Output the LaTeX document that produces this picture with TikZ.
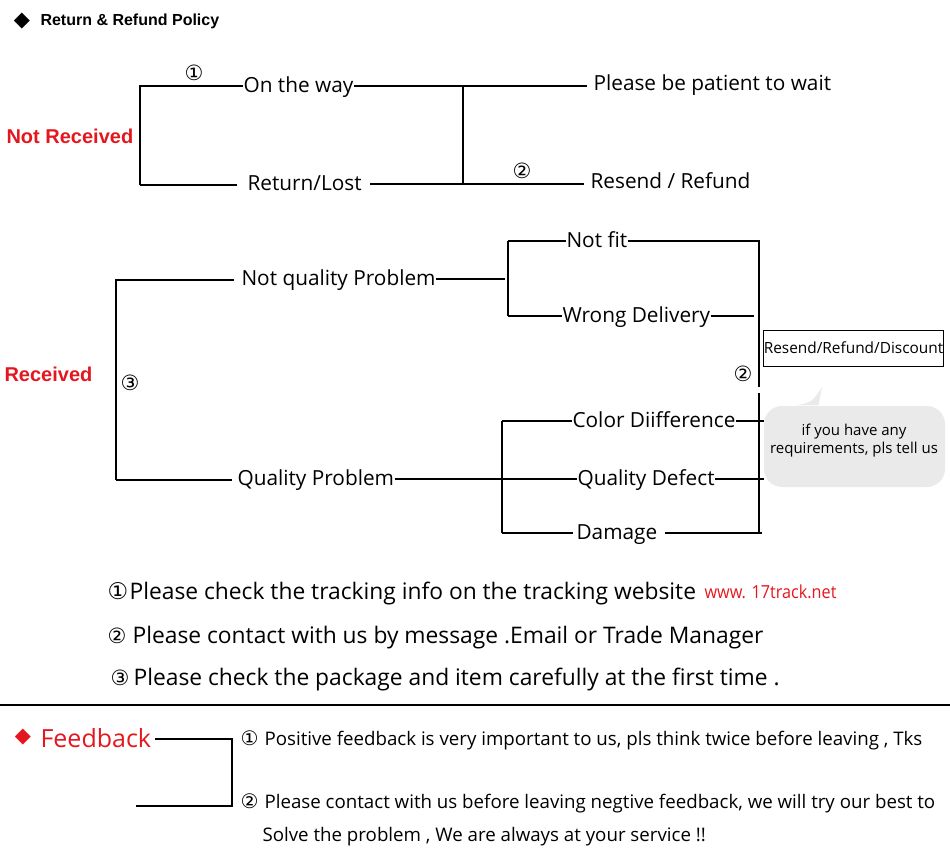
\documentclass[tikz,border=0pt]{standalone}
\usepackage{fontspec}
\setmainfont{Open Sans}
\newfontfamily\symf{DejaVu Sans}
\newfontfamily\arialf{Liberation Sans}
\newfontfamily\midf{Open Sans}[FakeStretch=0.9]
\newcommand\mycirc[3]{\makebox[#1pt][l]{\symf\fontsize{#2}{20}\selectfont #3}}
\definecolor{tred}{RGB}{228,22,30}
\definecolor{bubg}{RGB}{234,234,234}
\begin{document}
\begin{tikzpicture}[x=1pt,y=-1pt,line width=1.1pt,
  lbl/.style={font=\fontsize{20.8}{25}\selectfont, inner sep=0pt, anchor=west, text height=15pt, text depth=3pt},
  circ/.style={font=\symf\fontsize{21}{22}\selectfont, inner sep=0pt},
  bullet/.style={font=\symf\fontsize{21}{22}\selectfont, inner sep=0pt},
  redb/.style={font=\arialf\bfseries\fontsize{20}{23}\selectfont, text=tred, inner sep=0pt, anchor=west},
  ttl/.style={font=\arialf\bfseries\fontsize{16}{18}\selectfont, inner sep=0pt, anchor=west},
  btxt/.style={font=\fontsize{22.8}{27}\selectfont, inner sep=0pt, anchor=west, text height=16pt, text depth=5pt},
  urlt/.style={font=\midf\fontsize{18}{20}\selectfont, text=tred, inner sep=0pt, anchor=west},
  fbt/.style={font=\fontsize{18.7}{22}\selectfont, inner sep=0pt, anchor=west, text height=13pt, text depth=4pt},
  boxn/.style={draw, line width=1pt, minimum width=179pt, minimum height=36pt, inner sep=0pt, font=\fontsize{15.4}{18}\selectfont},
  bubble/.style={fill=bubg, rounded corners=18pt, minimum width=181pt, minimum height=81pt, inner sep=0pt},
  bubtxt/.style={font=\fontsize{15}{18}\selectfont, align=center, inner sep=0pt}]
\useasboundingbox (0,0) rectangle (950,852);

% ---- title
\node[bullet] (tb) at (22,21) {◆};
\node[ttl] (title) at (40,21) {Return \& Refund Policy};

% ---- Not received
\node[redb] (nr) at (6,136) {Not Received};
\coordinate (nrT) at (140,86);
\coordinate (nrB) at (140,185);
\node[lbl] (otw) at (243,86) {On the way};
\node[lbl] (rl) at (247,184) {Return/Lost};
\coordinate (j1T) at (463,86);
\coordinate (j1B) at (463,184);
\node[lbl] (wait) at (593,84) {Please be patient to wait};
\node[lbl] (rr) at (590,182) {Resend / Refund};
\draw (nrB) -- (nrT) -- (otw.west);
\draw (nrB) -- ([xshift=-10pt]nrB -| rl.west);
\draw ([xshift=8pt]rl.east) -- (j1B) -- ([xshift=-6pt]j1B -| rr.west);
\draw (otw.east) -- (j1T) -- ([xshift=-6pt]j1T -| wait.west);
\draw (j1T) -- (j1B);
\node[circ] (c1) at (194,73) {①};
\node[circ] (c2a) at (522,171) {②};

% ---- Received
\node[redb] (rcv) at (4,374) {Received};
\coordinate (rT) at (116,280);
\coordinate (rB) at (116,480);
\node[lbl] (nqp) at (241,279) {Not quality Problem};
\draw (rB) -- (rT) -- ([xshift=-7pt]rT -| nqp.west);
\coordinate (nqpE) at (505,279);
\draw (nqp.east) -- (nqpE);
\coordinate (j2T) at (508,241);
\coordinate (j2B) at (508,316);
\draw (j2T) -- (j2B);
\node[lbl] (nf) at (566,241) {Not fit};
\node[lbl] (wd) at (562,316) {Wrong Delivery};
\coordinate (r1) at (759,241);
\coordinate (r1m) at (759,387);
\coordinate (r2m) at (759,393);
\coordinate (r2) at (759,533);
\coordinate (wdE) at (754,316);
\draw (j2T) -- (nf.west);
\draw (nf.east) -- (r1) -- (r1m);
\draw (j2B) -- (wd.west);
\draw (wd.east) -- (wdE);
\draw (r2m) -- (r2);
\node[circ] (c2b) at (743,374) {②};
\node[circ] (c3) at (130,383) {③};
\node[boxn] (rrd) at (853.5,348) {Resend/Refund/Discount};

\coordinate (j3T) at (502,421);
\coordinate (j3B) at (502,533);
\draw (j3T) -- (j3B);
\node[lbl] (qp) at (237,479) {Quality Problem};
\node[lbl] (cd) at (572,421) {Color Diifference};
\node[lbl] (qd) at (577,479) {Quality Defect};
\node[lbl] (dm) at (576,533) {Damage};
\coordinate (cdE) at (764,421);
\coordinate (qdE) at (764,479);
\coordinate (dmE) at (762,533);
\draw (rB) -- ([xshift=-5pt]rB -| qp.west);
\draw (qp.east) -- (qd.west);
\draw (j3T) -- (cd.west);
\draw (cd.east) -- (cdE);
\draw (qd.east) -- (qdE);
\draw (j3B) -- ([xshift=-3pt]j3B -| dm.west);
\draw ([xshift=7pt]dmE -| dm.east) -- (dmE);

% bubble
\node[bubble] (bub) at (854.5,446.5) {};
\fill[bubg] ([xshift=-58pt]bub.north) .. controls (812,402) .. (822,387) -- ([xshift=-36pt]bub.north) -- cycle;
\node[bubtxt] (bubt) at (854,441) {if you have any\\requirements, pls tell us};

% ---- notes
\node[btxt] (l1) at (107,594) {\mycirc{22}{23}{①}Please check the tracking info on the tracking website};
\node[urlt] (url) at (704,592) {www. 17track.net};
\node[btxt] (l2) at (107,638) {\mycirc{25}{21}{②}Please contact with us by message .Email or Trade Manager};
\node[btxt] (l3) at (110,680) {\mycirc{23}{21}{③}Please check the package and item carefully at the first time .};
\coordinate (sepL) at (0,705);
\coordinate (sepR) at (950,705);
\draw[line width=1.3pt] (sepL) -- (sepR);

% ---- feedback
\node[bullet, text=tred] (fbd) at (23,737) {◆};
\node[inner sep=0pt, anchor=west, text=tred, font=\fontsize{25}{30}\selectfont] (fb) at (40,738) {Feedback};
\coordinate (fj1) at (232,739);
\coordinate (fj2) at (232,806);
\coordinate (fbL) at (136,806);
\draw ([xshift=3pt]fj1 -| fb.east) -- (fj1) -- (fj2) -- (fbL);
\node[fbt] (f1) at (240,741) {\mycirc{24}{20}{①}Positive feedback is very important to us, pls think twice before leaving , Tks};
\node[fbt] (f2) at (240,804) {\mycirc{24}{20}{②}Please contact with us before leaving negtive feedback, we will try our best to};
\node[fbt] (f3) at (262,837) {Solve the problem , We are always at your service !!};
\end{tikzpicture}
\end{document}
